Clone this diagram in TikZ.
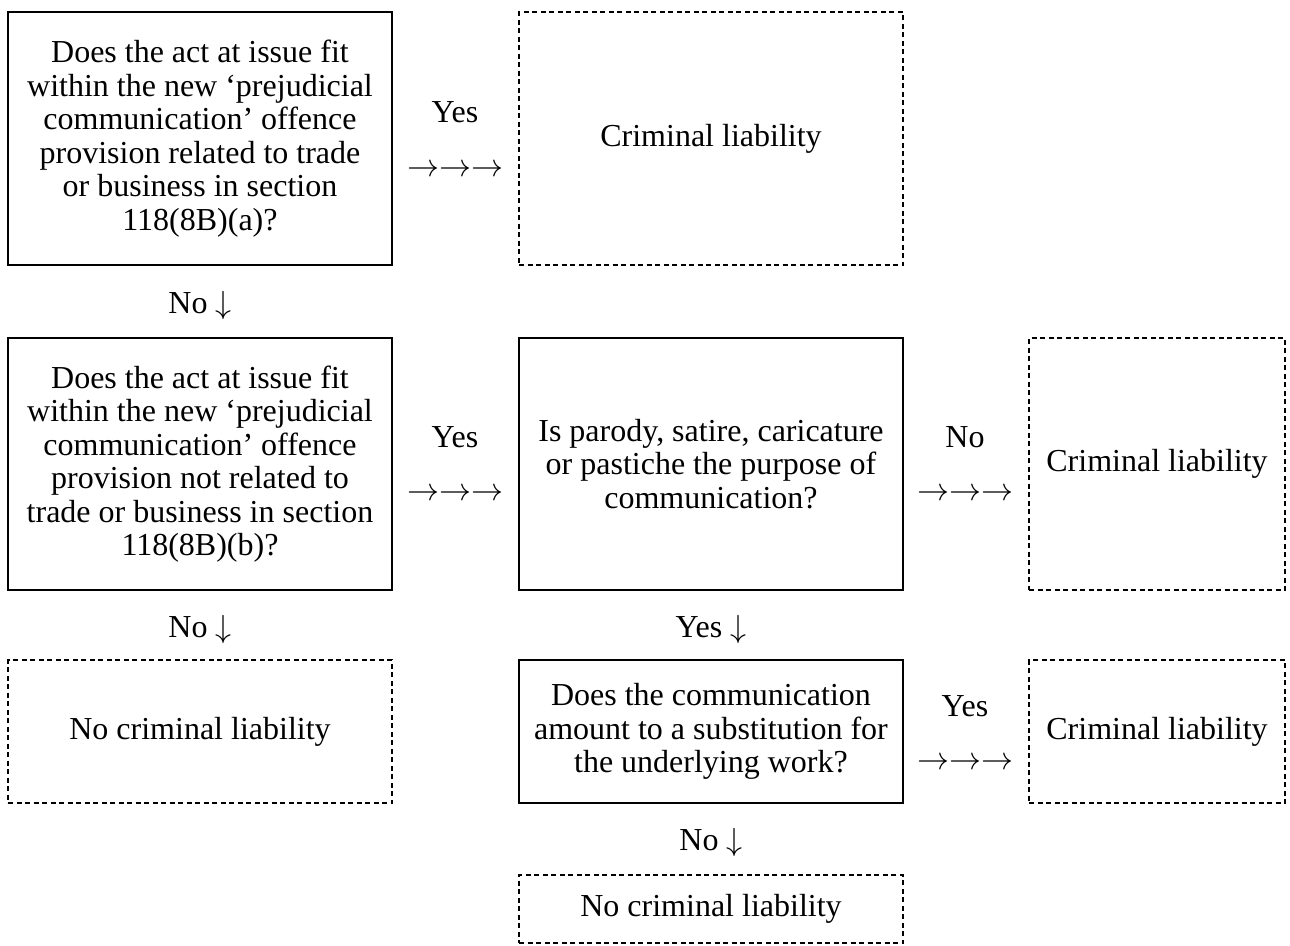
\RequirePackage{fix-cm}
\documentclass[tikz,border=0pt]{standalone}
\usepackage{fontspec}
\setmainfont{Liberation Serif}
\newcommand{\rarrs}{$\rightarrow\rightarrow\rightarrow$}
\newcommand{\darr}{$\downarrow$}
\begin{document}
\begin{tikzpicture}[x=1pt,y=-1pt,
  every node/.style={font=\fontsize{32}{33.5}\selectfont, inner sep=0pt, align=center},
  solidbox/.style={draw, line width=2pt},
  dotbox/.style={draw, line width=2.6pt, dash pattern=on 5pt off 3.5pt},
  lbl/.style={}
]
\useasboundingbox (0,0) rectangle (1290,945);
% row 1
\node[solidbox, minimum width=384pt, minimum height=253pt] (q1) at (200,138.5)
  {Does the act at issue fit\\within the new ‘prejudicial\\communication’ offence\\provision related to trade\\or business in section\\118(8B)(a)?};
\node[dotbox, minimum width=384pt, minimum height=253pt] (c1) at (711,138.5) {Criminal liability};
\node[lbl] (y1) at (455,112) {Yes};
\node[lbl] (a1) at (455,171) {\rarrs};
\node[lbl] (n1) at (200,305) {No \darr};
% row 2
\node[solidbox, minimum width=384pt, minimum height=252pt] (q2) at (200,464)
  {Does the act at issue fit\\within the new ‘prejudicial\\communication’ offence\\provision not related to\\trade or business in section\\118(8B)(b)?};
\node[lbl] (y2) at (455,437) {Yes};
\node[lbl] (a2) at (455,495) {\rarrs};
\node[solidbox, minimum width=384pt, minimum height=252pt] (q3) at (711,464)
  {Is parody, satire, caricature\\or pastiche the purpose of\\communication?};
\node[lbl] (n2) at (965,437) {No};
\node[lbl] (a3) at (965,495) {\rarrs};
\node[dotbox, minimum width=256pt, minimum height=252pt] (c2) at (1157,464) {Criminal liability};
\node[lbl] (n3) at (200,629) {No \darr};
\node[lbl] (y3) at (711,629) {Yes \darr};
% row 3
\node[dotbox, minimum width=384pt, minimum height=143pt] (nc1) at (200,731.5) {No criminal liability};
\node[solidbox, minimum width=384pt, minimum height=143pt] (q4) at (711,731.5)
  {Does the communication\\amount to a substitution for\\the underlying work?};
\node[lbl] (y4) at (965,706) {Yes};
\node[lbl] (a4) at (965,764) {\rarrs};
\node[dotbox, minimum width=256pt, minimum height=143pt] (c3) at (1157,731.5) {Criminal liability};
\node[lbl] (n4) at (711,842) {No \darr};
% row 4
\node[dotbox, minimum width=384pt, minimum height=68pt] (nc2) at (711,909) {No criminal liability};
\end{tikzpicture}
\end{document}
